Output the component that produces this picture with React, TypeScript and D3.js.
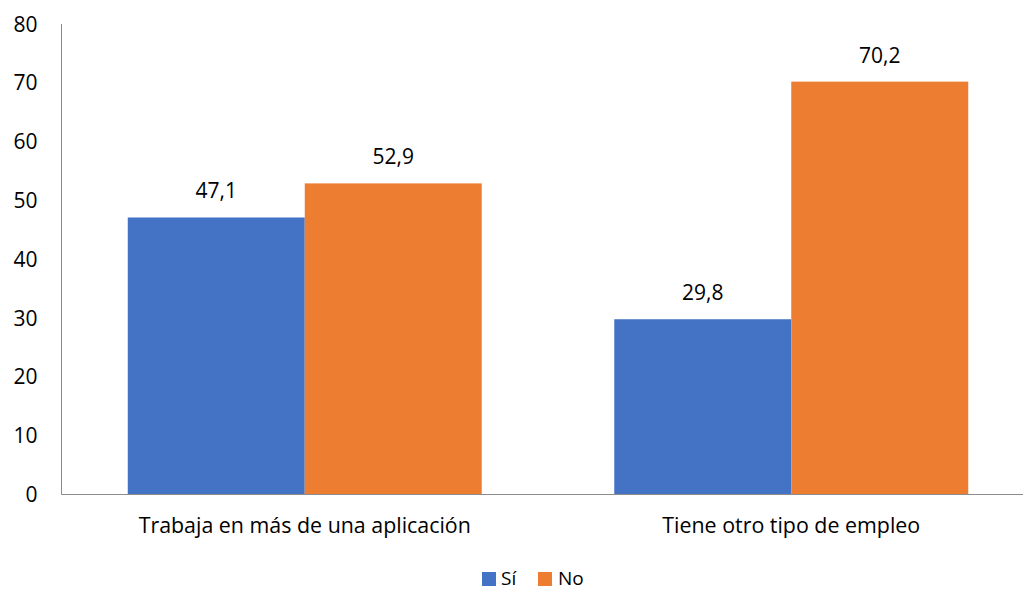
import React from "react";
import * as d3 from "d3";

const categories = ["Trabaja en más de una aplicación", "Tiene otro tipo de empleo"];
const seriesNames = ["Sí", "No"];
const siValues = [47.1, 29.8];
const noValues = [52.9, 70.2];
const yTicks = [0, 10, 20, 30, 40, 50, 60, 70, 80];
const colors = ["#4472C4", "#ED7D31"];

const W = 1023;
const H = 590;
const FONT = "'Open Sans', sans-serif";

export default function App() {
  const x0 = d3
    .scaleBand<string>()
    .domain(categories)
    .range([61.5, 1034.5])
    .paddingInner(0.2724)
    .paddingOuter(0.1362);
  const x1 = d3.scaleBand<string>().domain(seriesNames).range([0, x0.bandwidth()]).padding(0);
  const y = d3.scaleLinear().domain([0, 80]).range([494.5, 24]);
  const fmt = (v: number) => v.toFixed(1).replace(".", ",");
  const series = [siValues, noValues];

  return (
    <svg
      width={W}
      height={H}
      style={{ position: "absolute", left: 0, top: 0, background: "#fff" }}
      fontFamily={FONT}
    >
      <rect x={0} y={0} width={W} height={H} fill="#fff" />
      {yTicks.map((t) => (
        <text key={t} x={37.5} y={y(t) + 7.5} textAnchor="end" fontSize={21} fill="#000">
          {t}
        </text>
      ))}
      {categories.map((c, ci) =>
        seriesNames.map((s, si) => {
          const v = series[si][ci];
          const bx = (x0(c) as number) + (x1(s) as number);
          const bw = x1.bandwidth();
          return (
            <g key={c + s}>
              <rect x={bx} y={y(v)} width={bw} height={y(0) - y(v)} fill={colors[si]} />
              <text x={bx + bw / 2} y={y(v) - 19} textAnchor="middle" fontSize={21} fill="#000">
                {fmt(v)}
              </text>
            </g>
          );
        })
      )}
      <line x1={61.5} x2={W} y1={494.5} y2={494.5} stroke="#8c8c8c" strokeWidth={1} />
      <line x1={61.5} x2={61.5} y1={24} y2={494.5} stroke="#8c8c8c" strokeWidth={1} />
      {categories.map((c) => (
        <text
          key={c}
          x={(x0(c) as number) + x0.bandwidth() / 2}
          y={533}
          textAnchor="middle"
          fontSize={21.4}
          fill="#000"
        >
          {c}
        </text>
      ))}
      <g>
        <rect x={482} y={572} width={14} height={14} fill={colors[0]} />
        <text x={501} y={584.5} fontSize={19} fill="#000">
          {seriesNames[0]}
        </text>
        <rect x={538} y={572} width={14} height={14} fill={colors[1]} />
        <text x={558} y={584.5} fontSize={19} fill="#000">
          {seriesNames[1]}
        </text>
      </g>
    </svg>
  );
}
